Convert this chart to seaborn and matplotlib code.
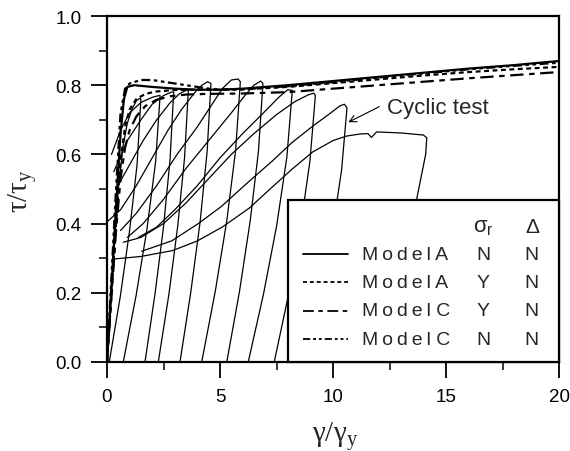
import matplotlib
matplotlib.use("Agg")
import matplotlib.pyplot as plt
from matplotlib.patches import Rectangle
from matplotlib.lines import Line2D
from matplotlib.ticker import MultipleLocator, FormatStrFormatter
import pandas as pd
import seaborn as sns

# ---------------- monotonic model curves ----------------
model_a_nn_x = [0, 0.2, 0.4, 0.6, 0.75, 0.9, 1.2, 2, 3, 4, 5, 6, 7, 8, 10, 12, 14, 16, 18, 20]
model_a_nn_y = [0, 0.22, 0.45, 0.66, 0.76, 0.795, 0.80, 0.795, 0.79, 0.787, 0.787, 0.79, 0.795,
                0.80, 0.812, 0.824, 0.836, 0.848, 0.858, 0.870]

model_a_yn_x = [0, 0.2, 0.4, 0.6, 0.8, 1.0, 1.3, 1.7, 2.2, 3, 4, 5, 6, 8, 10, 12, 14, 16, 18, 20]
model_a_yn_y = [0, 0.2, 0.4, 0.58, 0.68, 0.73, 0.76, 0.775, 0.782, 0.786, 0.787, 0.787, 0.788,
                0.795, 0.806, 0.817, 0.828, 0.838, 0.846, 0.853]

model_c_yn_x = [0, 0.2, 0.4, 0.6, 0.8, 1.0, 1.3, 1.7, 2.2, 2.8, 3.5, 4.5, 6, 8, 10, 12, 14, 16, 18, 20]
model_c_yn_y = [0, 0.19, 0.38, 0.53, 0.62, 0.67, 0.71, 0.74, 0.758, 0.768, 0.773, 0.775, 0.776,
                0.78, 0.79, 0.80, 0.81, 0.82, 0.829, 0.838]

model_c_nn_x = [0, 0.2, 0.4, 0.6, 0.8, 1.0, 1.5, 2.0, 2.5, 3.0, 3.5, 4.0, 4.5, 5, 6, 8, 10, 12,
                14, 16, 18, 20]
model_c_nn_y = [0, 0.25, 0.5, 0.72, 0.79, 0.805, 0.815, 0.815, 0.81, 0.805, 0.80, 0.795, 0.79,
                0.787, 0.788, 0.797, 0.809, 0.822, 0.834, 0.846, 0.856, 0.865]

# ---------------- cyclic test: reload branch -> peak -> unload branch ----------------
cycle_01_x = [0, 0.15, 0.3, 0.5, 0.7, 0.9, 1.1, 1.3, 1.45, 1.5, 1.33, 1.0, 0.59, 0.10]
cycle_01_y = [0, 0.15, 0.32, 0.50, 0.62, 0.69, 0.73, 0.755, 0.762, 0.76, 0.57, 0.38, 0.19, 0]

cycle_02_x = [0.2, 0.6, 1.0, 1.5, 2.0, 2.3, 2.35, 2.15, 1.77, 1.29, 0.72]
cycle_02_y = [0.60, 0.67, 0.72, 0.75, 0.765, 0.77, 0.77, 0.578, 0.385, 0.193, 0]

cycle_03_x = [0.3, 0.9, 1.5, 2.0, 2.5, 2.85, 2.95, 2.79, 2.50, 2.12, 1.68]
cycle_03_y = [0.55, 0.64, 0.70, 0.745, 0.77, 0.78, 0.78, 0.585, 0.39, 0.195, 0]

cycle_04_x = [0.4, 1.0, 1.6, 2.2, 2.8, 3.2, 3.5, 3.6, 3.43, 3.13, 2.74, 2.27]
cycle_04_y = [0.50, 0.57, 0.64, 0.70, 0.75, 0.775, 0.785, 0.785, 0.589, 0.393, 0.196, 0]

cycle_05_x = [0.0, 0.6, 1.3, 2.0, 2.7, 3.3, 3.9, 4.2, 4.45, 4.6, 4.43, 4.12, 3.71, 3.23]
cycle_05_y = [0.405, 0.44, 0.51, 0.59, 0.67, 0.73, 0.78, 0.80, 0.81, 0.805, 0.608, 0.405, 0.203, 0]

cycle_06_x = [0.6, 1.3, 2.2, 3.1, 4.0, 4.7, 5.1, 5.5, 5.8, 5.9, 5.69, 5.30, 4.79, 4.19]
cycle_06_y = [0.38, 0.43, 0.51, 0.60, 0.68, 0.75, 0.79, 0.815, 0.818, 0.81, 0.611, 0.408, 0.204, 0]

cycle_07_x = [0.9, 1.6, 2.5, 3.5, 4.5, 5.5, 6.1, 6.5, 6.8, 6.9, 6.70, 6.33, 5.86, 5.30]
cycle_07_y = [0.36, 0.40, 0.47, 0.56, 0.64, 0.72, 0.77, 0.80, 0.812, 0.805, 0.608, 0.405, 0.203, 0]

cycle_08_x = [1.39, 2.2, 3.0, 4.0, 5.0, 6.0, 7.0, 7.6, 8.0, 8.2, 7.96, 7.51, 6.93, 6.25]
cycle_08_y = [0.36, 0.39, 0.44, 0.51, 0.59, 0.66, 0.725, 0.765, 0.787, 0.785, 0.593, 0.395, 0.198, 0]

cycle_09_x = [0.72, 1.5, 2.5, 3.5, 4.5, 5.5, 6.5, 7.5, 8.3, 8.9, 9.15, 9.22, 8.98, 8.56, 8.03, 7.40]
cycle_09_y = [0.346, 0.36, 0.40, 0.46, 0.53, 0.60, 0.66, 0.715, 0.752, 0.772, 0.777, 0.77, 0.581,
              0.388, 0.194, 0]

cycle_10_x = [1.53, 2.86, 4.04, 5.07, 6.25, 7.3, 8.2, 9.13, 9.8, 10.3, 10.5, 10.62, 10.38, 9.96,
              9.43, 8.8]
cycle_10_y = [0.32, 0.35, 0.40, 0.45, 0.52, 0.58, 0.635, 0.683, 0.715, 0.74, 0.745, 0.735, 0.555,
              0.37, 0.185, 0]

cycle_11_x = [0.35, 1.5, 2.9, 4.0, 5.1, 6.3, 7.3, 8.2, 9.1, 10.0, 10.6, 11.2, 11.55, 11.7, 11.93,
              13.0, 14.0, 14.15, 14.1, 13.7, 13.2, 12.6]
cycle_11_y = [0.298, 0.305, 0.322, 0.35, 0.39, 0.445, 0.505, 0.558, 0.607, 0.64, 0.653, 0.659,
              0.66, 0.649, 0.665, 0.662, 0.656, 0.648, 0.60, 0.47, 0.30, 0]

# ---------------- legend table ----------------
legend_models = ["Model A", "Model A", "Model C", "Model C"]
legend_sigma = ["N", "Y", "Y", "N"]
legend_delta = ["N", "N", "N", "N"]

x_ticks = [0, 5, 10, 15, 20]
y_ticks = [0.0, 0.2, 0.4, 0.6, 0.8, 1.0]

# ---------------- tables for seaborn ----------------
model_names = ["A_NN", "A_YN", "C_YN", "C_NN"]
model_xy = [(model_a_nn_x, model_a_nn_y), (model_a_yn_x, model_a_yn_y),
            (model_c_yn_x, model_c_yn_y), (model_c_nn_x, model_c_nn_y)]
models = pd.concat(
    [pd.DataFrame({"x": mx, "y": my, "model": name}) for name, (mx, my) in zip(model_names, model_xy)],
    ignore_index=True)

cycles_xy = [(cycle_01_x, cycle_01_y), (cycle_02_x, cycle_02_y), (cycle_03_x, cycle_03_y),
             (cycle_04_x, cycle_04_y), (cycle_05_x, cycle_05_y), (cycle_06_x, cycle_06_y),
             (cycle_07_x, cycle_07_y), (cycle_08_x, cycle_08_y), (cycle_09_x, cycle_09_y),
             (cycle_10_x, cycle_10_y), (cycle_11_x, cycle_11_y)]
cyclic = pd.concat(
    [pd.DataFrame({"x": cx, "y": cy, "cycle": i}) for i, (cx, cy) in enumerate(cycles_xy)],
    ignore_index=True)

line_dashes = {"A_NN": "", "A_YN": (2.2, 1.6), "C_YN": (6, 2.5, 2.5, 2.5),
               "C_NN": (4, 1.6, 1.6, 1.6, 1.6, 1.6)}

# ---------------- style ----------------
sns.set_theme(style="ticks")
plt.rcParams["font.family"] = ["Liberation Sans", "DejaVu Sans"]
plt.rcParams["mathtext.default"] = "regular"

fig = plt.figure(figsize=(5.7, 4.52), dpi=100)
ax = fig.add_axes([107 / 570, 1 - 363 / 452, 452 / 570, 346 / 452])

sns.lineplot(data=cyclic, x="x", y="y", units="cycle", estimator=None, sort=False,
             color="black", lw=0.9, ax=ax, legend=False)
sns.lineplot(data=models, x="x", y="y", style="model", dashes=line_dashes, estimator=None,
             sort=False, color="black", lw=1.6, ax=ax, legend=False)

ax.set_xlim(0, 20)
ax.set_ylim(0, 1.0)
ax.set_xticks(x_ticks)
ax.set_yticks(y_ticks)
ax.xaxis.set_minor_locator(MultipleLocator(2.5))
ax.yaxis.set_minor_locator(MultipleLocator(0.1))
ax.yaxis.set_major_formatter(FormatStrFormatter("%.1f"))
ax.tick_params(which="major", direction="out", length=11.5, width=1.3, pad=7,
               labelsize=13.5, colors="black")
ax.tick_params(which="minor", direction="out", length=5.5, width=1.3)
for sp in ax.spines.values():
    sp.set_linewidth(1.6)
    sp.set_color("black")

ax.set_xlabel(r"$\gamma/\gamma_y$", fontsize=21, family=["Liberation Serif", "DejaVu Serif"])
ax.set_ylabel(r"$\tau/\tau_y$", fontsize=21, family=["Liberation Serif", "DejaVu Serif"])
ax.xaxis.set_label_coords(0.504, -0.165)
ax.yaxis.set_label_coords(-0.15, 0.497)

# annotation for the cyclic test curves
ax.annotate("", xy=(10.68, 0.693), xytext=(12.05, 0.738),
            arrowprops=dict(arrowstyle="->,head_length=0.35,head_width=0.18", lw=0.8,
                            color="black", shrinkA=0, shrinkB=0, mutation_scale=14))
ax.text(12.38, 0.736, "Cyclic test", fontsize=16, ha="left", va="center")

# legend table
leg_left, leg_top = 0.400, 0.468
ax.add_patch(Rectangle((leg_left, 0), 1 - leg_left, leg_top, transform=ax.transAxes,
                       facecolor="white", edgecolor="black", lw=1.6, zorder=5, clip_on=False))
row_y = [0.312, 0.230, 0.148, 0.066]
head_y = 0.393
sig_x, del_x = 0.832, 0.940
ax.text(sig_x, head_y, r"$\sigma_r$", transform=ax.transAxes, ha="center", va="center",
        fontsize=16, zorder=6)
ax.text(del_x, head_y, "Δ", transform=ax.transAxes, ha="center", va="center",
        fontsize=15, zorder=6)
for name, lab, s, d, yy in zip(model_names, legend_models, legend_sigma, legend_delta, row_y):
    dash = line_dashes[name]
    ln = Line2D([0.434, 0.533], [yy, yy], transform=ax.transAxes, color="black", lw=1.3,
                zorder=6)
    if dash:
        ln.set_dashes(dash)
    ax.add_line(ln)
    spaced = "\u2009".join(lab[:5]) + lab[5:]
    ax.text(0.564, yy, spaced, transform=ax.transAxes, ha="left", va="center",
            fontsize=14, zorder=6)
    ax.text(sig_x, yy, s, transform=ax.transAxes, ha="center", va="center", fontsize=14, zorder=6)
    ax.text(del_x, yy, d, transform=ax.transAxes, ha="center", va="center", fontsize=14, zorder=6)

fig.savefig("out.png", dpi=100, facecolor="white")
